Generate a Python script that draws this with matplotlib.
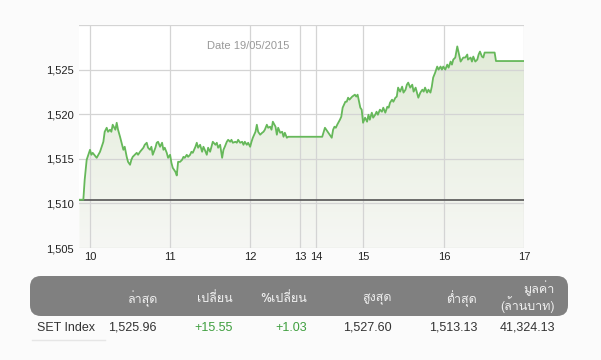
import numpy as np
import matplotlib
matplotlib.use('Agg')
import matplotlib.pyplot as plt
from matplotlib import font_manager
from matplotlib.patches import FancyBboxPatch
from matplotlib.ticker import FixedLocator, FixedFormatter

# ---------------- data ----------------
prev_close = 1510.41
# morning session: minutes after 10:00
morning_min = [-8, -5, -4, -2.5, 0, 1, 2, 5, 7.5, 10, 11, 12.5, 13.5, 15, 16, 17, 19, 20, 21, 22.5,
               24, 25, 26, 27.5, 28.5, 30, 31, 32, 35, 36, 37.5, 40, 41, 42.5, 43.5, 45, 46, 47, 49, 50,
               51, 52.5, 54, 55, 56, 57.5, 58.5, 60, 61, 62, 64, 65, 66, 67.5, 69, 70, 71, 72.5, 73.5, 75,
               76, 77, 79, 80, 81, 82.5, 84, 85, 86, 87.5, 88.5, 90, 91, 92, 94, 95, 96, 97.5, 99, 100,
               101, 102.5, 103.5, 105, 106, 107, 109, 110, 111, 112.5, 114, 115, 116, 117.5, 118.5, 120,
               121, 122, 124, 125, 126, 127.5, 129, 130, 131, 132.5, 133.5, 135, 136, 137, 139, 140,
               141, 142.5, 144, 145, 146, 147.5, 148.5, 150]
morning_val = [1510.41, 1510.41, 1512.64, 1514.89, 1516.01, 1515.45, 1515.67, 1515.11, 1515.79, 1516.91,
               1518.03, 1518.48, 1518.03, 1518.26, 1518.03, 1518.82, 1518.26, 1519.04, 1518.26, 1517.47,
               1516.57, 1516.01, 1516.35, 1515.22, 1514.66, 1514.33, 1514.89, 1515.22, 1515.67, 1515.45,
               1515.79, 1516.24, 1516.57, 1516.80, 1516.24, 1516.01, 1516.35, 1515.45, 1516.24, 1516.80,
               1516.91, 1516.35, 1516.80, 1516.01, 1516.24, 1515.67, 1515.11, 1515.45, 1514.55, 1513.99,
               1513.54, 1513.13, 1514.66, 1514.66, 1514.89, 1515.22, 1515.11, 1515.45, 1515.22, 1515.45,
               1515.79, 1515.67, 1516.35, 1516.80, 1516.24, 1516.57, 1515.79, 1516.35, 1516.01, 1515.45,
               1516.24, 1515.79, 1516.35, 1516.91, 1516.57, 1516.80, 1516.24, 1516.57, 1515.11, 1516.01,
               1516.35, 1516.91, 1517.13, 1516.91, 1517.13, 1516.80, 1516.91, 1516.80, 1517.13, 1516.80,
               1516.91, 1516.57, 1516.91, 1516.57, 1516.80, 1516.35, 1516.91, 1517.36, 1518.03, 1518.82,
               1518.03, 1517.70, 1517.92, 1518.03, 1518.26, 1518.82, 1518.48, 1518.60, 1518.26, 1519.16,
               1518.60, 1517.70, 1518.48, 1517.92, 1518.03, 1517.47, 1517.92, 1517.36, 1517.47, 1517.47]
# afternoon session: minutes after 15:00 (starts 14:30)
afternoon_min = [-30, -28, -26, -23, -22, -21, -20, -19, -17, -16, -15, -13, -12, -11, -10, -8, -6, -5,
                 -4, -2, -1, 0, 1.5, 3, 4, 5, 6.5, 7.5, 9, 10, 11, 12.5, 14, 15, 16.5, 18, 19, 20, 21.5,
                 22.5, 24, 25, 26, 27.5, 29, 30, 31.5, 32.5, 33.5, 35, 36.5, 37.5, 39, 40, 41, 42.5, 44,
                 45, 46, 47.5, 48.5, 50, 51, 52, 53.5, 55, 56, 57.5, 58.5, 59.5, 61, 62.5, 63.5, 65, 66,
                 67, 68.5, 70, 71, 72.5, 73.5, 74.5, 76, 77.5, 78, 80, 81, 82, 83.5, 85, 86, 87, 88.5,
                 89.5, 90.5, 98, 99, 120]
afternoon_val = [1517.47, 1518.48, 1518.03, 1517.36, 1518.26, 1518.60, 1518.48, 1518.82, 1519.38, 1519.72,
                 1520.73, 1521.40, 1521.40, 1521.85, 1521.63, 1521.97, 1522.19, 1521.97, 1522.19, 1520.73,
                 1520.51, 1519.04, 1519.61, 1519.16, 1519.94, 1519.38, 1520.17, 1519.61, 1519.94, 1520.28,
                 1519.94, 1520.51, 1520.28, 1520.73, 1520.17, 1520.84, 1520.73, 1521.29, 1521.63, 1521.40,
                 1521.85, 1521.97, 1522.98, 1522.53, 1523.09, 1522.42, 1522.75, 1523.31, 1523.54, 1522.98,
                 1523.31, 1522.53, 1522.98, 1522.42, 1521.85, 1522.42, 1522.75, 1522.53, 1522.98, 1522.42,
                 1522.75, 1522.42, 1523.09, 1524.10, 1524.66, 1525.34, 1525.00, 1525.34, 1525.00, 1525.34,
                 1525.00, 1525.56, 1525.22, 1525.90, 1525.56, 1526.12, 1526.35, 1527.60, 1526.91, 1525.90,
                 1526.12, 1526.35, 1526.35, 1526.69, 1526.12, 1526.35, 1525.90, 1526.46, 1525.90, 1526.12,
                 1526.69, 1527.02, 1526.46, 1526.35, 1526.91, 1526.91, 1525.96, 1525.96]

hour_ticks = [10, 11, 12, 13, 14, 15, 16, 17]
y_ticks = [1505, 1510, 1515, 1520, 1525]
y_labels = ['1,505', '1,510', '1,515', '1,520', '1,525']
date_label = 'Date 19/05/2015'

col_headers = ['ล่าสุด', 'เปลี่ยน', '%เปลี่ยน', 'สูงสุด', 'ต่ำสุด', 'มูลค่า\n(ล้านบาท)']
row_name = 'SET Index'
row_values = ['1,525.96', '+15.55', '+1.03', '1,527.60', '1,513.13', '41,324.13']
row_colors = ['#333333', '#3f9f3f', '#3f9f3f', '#333333', '#333333', '#333333']

# ---------------- fonts ----------------
available = {f.name for f in font_manager.fontManager.ttflist}
thai_font = next((n for n in ['Loma', 'Garuda', 'Noto Sans Thai Looped', 'Noto Sans Thai', 'Sarabun']
                  if n in available), 'DejaVu Sans')
latin_fam = ['Liberation Sans', thai_font, 'DejaVu Sans']
thai_fam = [thai_font, 'Liberation Sans', 'DejaVu Sans']
plt.rcParams['font.family'] = latin_fam

# ---------------- time axis (compressed lunch break) ----------------
knots_t = [590, 600, 660, 720, 750, 780, 840, 870, 900, 960, 1020]
knots_u = [-0.1667, 0, 1, 2, 2.5, 2.625, 2.82, 2.9, 3.41, 4.42, 5.42]


def fwd(t):
    return np.interp(t, knots_t, knots_u)


def inv(u):
    return np.interp(u, knots_u, knots_t)


t = np.concatenate([600 + np.array(morning_min), 900 + np.array(afternoon_min)])
v = np.concatenate([np.array(morning_val), np.array(afternoon_val)])

fig = plt.figure(figsize=(6.01, 3.6), dpi=100, facecolor='#fbfbfb')
ax = fig.add_axes([79 / 601, 1 - 248 / 360, 445 / 601, 223 / 360])
ax.set_facecolor('#ffffff')
ax.set_xscale('function', functions=(fwd, inv))
xmin, xmax = 591.75, 1020
ymin, ymax = 1505, 1530
ax.set_xlim(xmin, xmax)
ax.set_ylim(ymin, ymax)

# gradient fill under the line
fill = ax.fill_between(t, v, ymin, color='none', lw=0)
grad = np.linspace(0, 1, 256).reshape(-1, 1)
c_top = np.array([0.878, 0.918, 0.835])
c_bot = np.array([0.965, 0.969, 0.957])
img = c_top[None, None, :] * (1 - grad[:, :, None]) + c_bot[None, None, :] * grad[:, :, None]
im = ax.imshow(img, extent=[0, 1, 0, 1], transform=ax.transAxes, aspect='auto', zorder=1,
               interpolation='bilinear')
clip_path = fill.get_paths()[0]
im.set_clip_path(clip_path, transform=ax.transData)
ax.set_xlim(xmin, xmax)
ax.set_ylim(ymin, ymax)

ax.plot(t, v, color='#66b85a', lw=1.3, zorder=4)
ax.axhline(prev_close, color='#606060', lw=1.3, zorder=3)

tick_t = [h * 60 for h in hour_ticks]
ax.xaxis.set_major_locator(FixedLocator(tick_t))
ax.xaxis.set_major_formatter(FixedFormatter([str(h) for h in hour_ticks]))
ax.set_yticks(y_ticks + [1530])
ax.set_yticklabels(y_labels + [''])
ax.grid(True, color='#d4d4d4', lw=0.9, zorder=2)
ax.set_axisbelow(False)
for s in ax.spines.values():
    s.set_visible(False)
ax.tick_params(length=0, labelsize=8, colors='#222222', pad=4)
ax.tick_params(axis='x', pad=3)

fig.text(207 / 601, 1 - 46 / 360, date_label, fontsize=8, color='#999999', va='center', ha='left')

# ---------------- table ----------------
box = FancyBboxPatch((30 / 601, 1 - 316 / 360), 538 / 601, 40 / 360,
                     boxstyle='round,pad=0,rounding_size=0.018', transform=fig.transFigure,
                     facecolor='#808080', edgecolor='none', mutation_aspect=601 / 360)
fig.patches.append(box)
col_right = [157, 233, 307, 392, 477, 555]
for x, h in zip(col_right, col_headers):
    if '\n' in h:
        a, b = h.split('\n')
        fig.text(x / 601, 1 - 288 / 360, a, ha='right', va='center', fontsize=9, color='#f0f0f0',
                 family=thai_fam)
        fig.text(x / 601, 1 - 304.5 / 360, b, ha='right', va='center', fontsize=9, color='#f0f0f0',
                 family=thai_fam)
    else:
        fig.text(x / 601, 1 - 299 / 360, h, ha='right', va='center', fontsize=9, color='#f0f0f0',
                 family=thai_fam)
fig.text(37 / 601, 1 - 328 / 360, row_name, ha='left', va='center', fontsize=9, color='#333333')
for x, val, c in zip(col_right, row_values, row_colors):
    fig.text(x / 601, 1 - 328 / 360, val, ha='right', va='center', fontsize=9, color=c)
fig.add_artist(plt.Line2D([32 / 601, 105 / 601], [1 - 340 / 360, 1 - 340 / 360], color='#e6e6e6', lw=1))

fig.savefig('out.png', dpi=100, facecolor=fig.get_facecolor())
